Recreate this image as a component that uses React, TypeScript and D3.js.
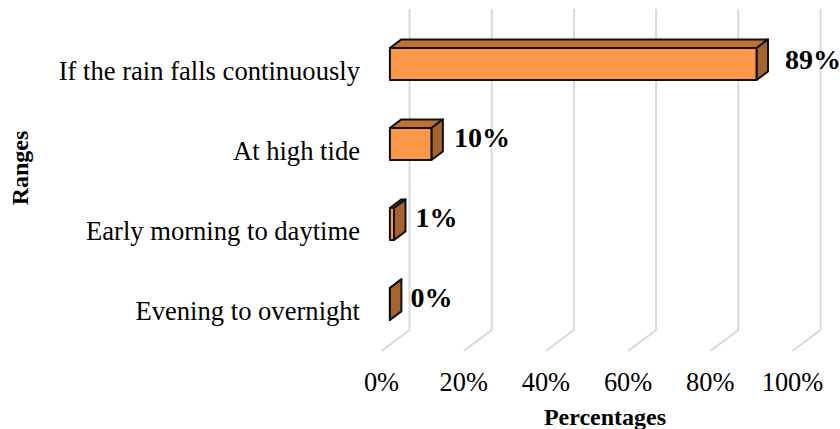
import * as d3 from 'd3'

const categories = ['If the rain falls continuously', 'At high tide', 'Early morning to daytime', 'Evening to overnight']
const values = [89.2, 10.1, 1, 0]
const valueLabels = ['89%', '10%', '1%', '0%']
const ticks = [0, 20, 40, 60, 80, 100]

const FONT = '"Liberation Serif", "Times New Roman", serif'
// floor depth of the 3d box, front edge to back wall
const DEPTH_X = 28
const DEPTH_Y = 21
const GRID_TOP = 9
const GRID_BOTTOM = 330
// manual nudges on the value labels, the big bar's label sits further out and lower
const LABEL_DX = [17, 11, 10, 9]
const LABEL_DY = [21, 19, 19, 19]

export default function App() {
  const x = d3.scaleLinear().domain([0, 100]).range([381.5, 792.5])
  const y = d3.scaleBand().domain(categories).range([24, 344]).paddingInner(0.6).paddingOuter(0.3)

  // bar sits between 30% and 71% of the floor depth
  const offX0 = DEPTH_X * 0.3
  const offX1 = DEPTH_X * 0.71
  const offY = DEPTH_Y * 0.41

  return (
    <svg width={840} height={429} style={{ position: 'absolute', left: 0, top: 0, fontFamily: FONT }}>
      {ticks.map(t => {
        const line = d3.line()([
          [x(t) + DEPTH_X, GRID_TOP],
          [x(t) + DEPTH_X, GRID_BOTTOM],
          [x(t), GRID_BOTTOM + DEPTH_Y],
        ])
        return (
          <g key={t}>
            <path d={line!} fill="none" stroke="#d9d9d9" strokeWidth={2} />
            <text x={x(t)} y={391} textAnchor="middle" fontSize={26.4} fill="#000">{t}%</text>
          </g>
        )
      })}

      {categories.map((c, i) => {
        const top = y(c)!
        const bottom = top + y.bandwidth()
        const x0 = x(0) + offX0
        const x1 = x(values[i]) + offX0
        const face = `M${x0},${top}H${x1}V${bottom}H${x0}Z`
        const topFace = `M${x0},${top}L${x0 + offX1 - offX0},${top - offY}H${x1 + offX1 - offX0}L${x1},${top}Z`
        const sideFace = `M${x1},${top}L${x1 + offX1 - offX0},${top - offY}V${bottom - offY}L${x1},${bottom}Z`
        return (
          <g key={c} stroke="#111" strokeWidth={2} strokeLinejoin="round">
            <path d={topFace} fill="#bd7135" />
            <path d={sideFace} fill="#a5642f" />
            <path d={face} fill="#fb9849" />
            <text x={360} y={top + 32} textAnchor="end" fontSize={26.6} fill="#000" stroke="none">{c}</text>
            <text x={x1 + offX1 - offX0 + LABEL_DX[i]} y={top + LABEL_DY[i]} fontSize={28} fontWeight="bold" fill="#000" stroke="none">{valueLabels[i]}</text>
          </g>
        )
      })}

      <text x={605} y={425} textAnchor="middle" fontSize={24} fontWeight="bold">Percentages</text>
      <text transform="translate(28,168) rotate(-90)" textAnchor="middle" fontSize={24} fontWeight="bold">Ranges</text>
    </svg>
  )
}
